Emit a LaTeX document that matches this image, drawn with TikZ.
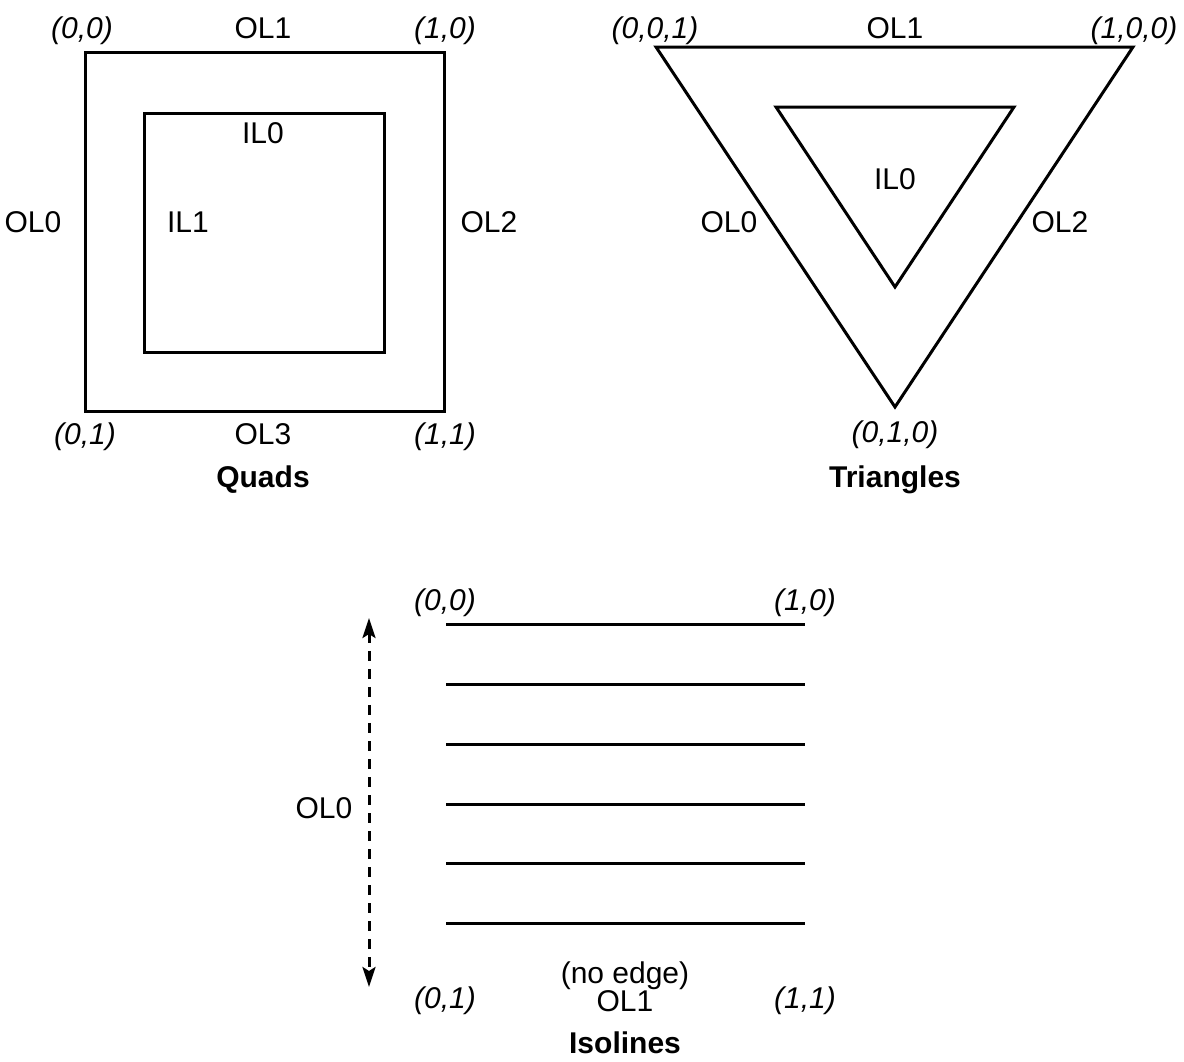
\documentclass[tikz,border=0pt]{standalone}
\usepackage{fontspec}
\setmainfont{Liberation Sans}
\usetikzlibrary{arrows.meta}
\begin{document}
\begin{tikzpicture}[x=1pt,y=-1pt,
  shape line/.style={line width=3pt, line join=miter},
  lbl/.style={font=\fontsize{30}{24}\selectfont, inner sep=0pt, text height=21.5pt, text depth=0pt},
  coord/.style={lbl, font=\fontsize{30}{24}\selectfont\itshape},
  title/.style={lbl, font=\fontsize{30}{24}\selectfont\bfseries},
  iso/.style={line width=3pt}]
\useasboundingbox (0,0) rectangle (1184,1061);
% Quads
\coordinate (qa) at (85,52); \coordinate (qb) at (444,411);
\coordinate (qc) at (144,113); \coordinate (qd) at (384,352);
\draw[shape line] (qa) rectangle (qb);
\draw[shape line] (qc) rectangle (qd);
\node[coord] (q00) at (82,28) {(0,0)};
\node[lbl] (qol1) at (263,28) {OL1};
\node[coord] (q10) at (445,28) {(1,0)};
\node[lbl] (qol0) at (33,222) {OL0};
\node[lbl] (qil1) at (188,222) {IL1};
\node[lbl] (qil0) at (263,133) {IL0};
\node[lbl] (qol2) at (489,222) {OL2};
\node[coord] (q01) at (85,434) {(0,1)};
\node[lbl] (qol3) at (263,434) {OL3};
\node[coord] (q11) at (445,434) {(1,1)};
\node[title] (qt) at (263,477) {Quads};
% Triangles
\coordinate (ta) at (656,47); \coordinate (tb) at (1133,47); \coordinate (tc) at (895,407);
\coordinate (td) at (776,107); \coordinate (te) at (1014,107); \coordinate (tf) at (895,287);
\draw[shape line] (ta) -- (tb) -- (tc) -- cycle;
\draw[shape line] (td) -- (te) -- (tf) -- cycle;
\node[coord] (t001) at (655,28) {(0,0,1)};
\node[lbl] (tol1) at (895,28) {OL1};
\node[coord] (t100) at (1134,28) {(1,0,0)};
\node[lbl] (til0) at (895,179) {IL0};
\node[lbl] (tol0) at (729,222) {OL0};
\node[lbl] (tol2) at (1060,222) {OL2};
\node[coord] (t010) at (895,432) {(0,1,0)};
\node[title] (tt) at (895,477) {Triangles};
% Isolines
\foreach \y [count=\i] in {624,684,744,804,863,923} {
  \coordinate (l\i) at (446,\y); \coordinate (r\i) at (805,\y);
  \draw[iso] (l\i) -- (r\i);
}
\node[coord] (i00) at (445,600) {(0,0)};
\node[coord] (i10) at (805,600) {(1,0)};
\coordinate (at) at (369,618); \coordinate (ab) at (369,987);
\draw[line width=3pt, dash pattern=on 10pt off 8pt, {Stealth[length=20pt,width=13pt,inset=4pt]}-{Stealth[length=20pt,width=13pt,inset=4pt]}] (at) -- (ab);
\node[lbl] (iol0) at (324,808) {OL0};
\node[font=\fontsize{30}{24}\selectfont, inner sep=0pt, align=center] (iol1) at (625,987) {(no edge)\\OL1};
\node[coord] (i01) at (445,998) {(0,1)};
\node[coord] (i11) at (805,998) {(1,1)};
\node[title] (it) at (625,1043) {Isolines};
\end{tikzpicture}
\end{document}
